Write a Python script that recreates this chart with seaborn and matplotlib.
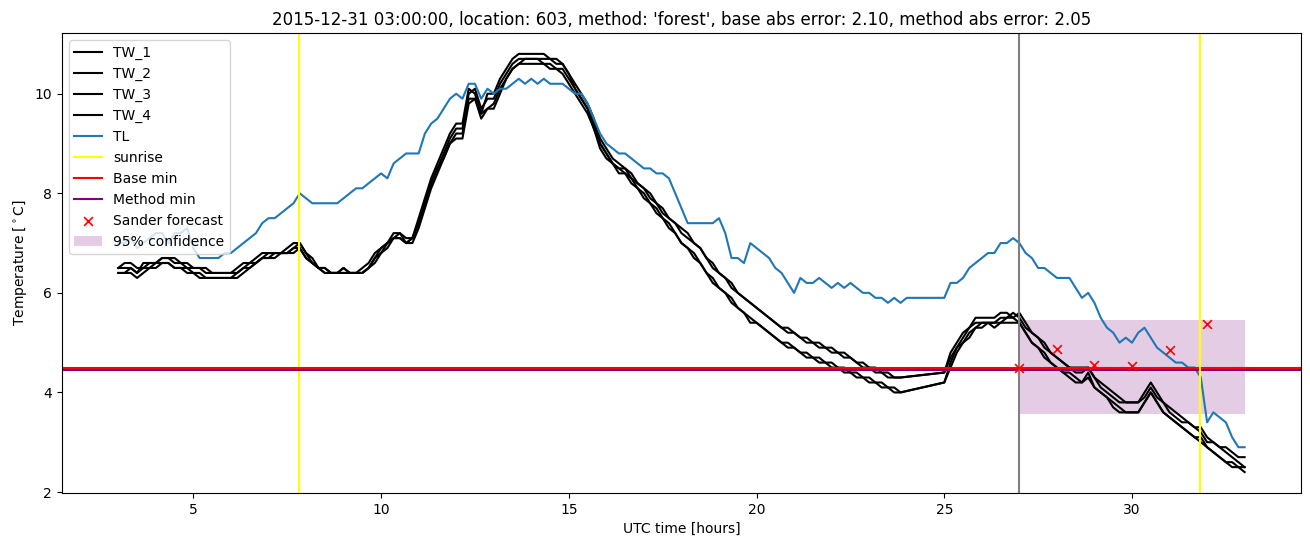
import numpy as np
import matplotlib
matplotlib.use("Agg")
import matplotlib.pyplot as plt
import seaborn as sns

# ---------------- data ----------------
# 10-minute sampling grid, hours UTC (3:00 .. 33:00)
hours = np.round(np.arange(3 * 6, 33 * 6 + 1) / 6, 4)
# water-temperature sensors have no data between ~23:50 and 25:00
tw_hours = hours[(hours < 23.9) | (hours > 24.9)]

tl = [7.0, 7.0, 7.1, 6.9, 7.0, 7.1, 7.2, 7.2, 7.0, 7.2,
      7.2, 7.3, 6.9, 6.7, 6.7, 6.7, 6.7, 6.8, 6.8, 6.9,
      7.0, 7.1, 7.2, 7.4, 7.5, 7.5, 7.6, 7.7, 7.8, 8.0,
      7.9, 7.8, 7.8, 7.8, 7.8, 7.8, 7.9, 8.0, 8.1, 8.1,
      8.2, 8.3, 8.4, 8.3, 8.6, 8.7, 8.8, 8.8, 8.8, 9.2,
      9.4, 9.5, 9.7, 9.9, 10.0, 9.9, 10.2, 10.2, 9.9, 10.1,
      10.0, 10.1, 10.1, 10.2, 10.3, 10.2, 10.3, 10.2, 10.3, 10.2,
      10.2, 10.2, 10.1, 10.0, 10.0, 9.8, 9.5, 9.2, 9.0, 8.9,
      8.8, 8.8, 8.7, 8.6, 8.5, 8.5, 8.4, 8.4, 8.3, 8.0,
      7.7, 7.4, 7.4, 7.4, 7.4, 7.4, 7.5, 7.2, 6.7, 6.7,
      6.6, 7.0, 6.9, 6.8, 6.7, 6.5, 6.4, 6.2, 6.0, 6.3,
      6.2, 6.2, 6.3, 6.2, 6.1, 6.2, 6.1, 6.2, 6.1, 6.0,
      6.0, 5.9, 5.9, 5.8, 5.9, 5.8, 5.9, 5.9, 5.9, 5.9,
      5.9, 5.9, 5.9, 6.2, 6.2, 6.3, 6.5, 6.6, 6.7, 6.8,
      6.8, 7.0, 7.0, 7.1, 7.0, 6.8, 6.7, 6.5, 6.5, 6.4,
      6.3, 6.3, 6.3, 6.1, 5.9, 6.0, 5.8, 5.5, 5.3, 5.2,
      5.0, 5.1, 5.0, 5.2, 5.3, 5.1, 4.9, 4.8, 4.7, 4.6,
      4.6, 4.5, 4.5, 4.3, 3.4, 3.6, 3.5, 3.4, 3.1, 2.9,
      2.9]

tw_1 = [6.5, 6.6, 6.6, 6.5, 6.5, 6.6, 6.6, 6.7, 6.7, 6.6,
        6.6, 6.6, 6.5, 6.5, 6.5, 6.4, 6.4, 6.4, 6.4, 6.5,
        6.6, 6.6, 6.7, 6.8, 6.8, 6.8, 6.8, 6.9, 7.0, 7.0,
        6.8, 6.6, 6.5, 6.5, 6.4, 6.4, 6.5, 6.4, 6.4, 6.5,
        6.6, 6.8, 6.9, 7.0, 7.2, 7.2, 7.0, 7.1, 7.5, 7.9,
        8.3, 8.6, 8.9, 9.2, 9.4, 9.4, 10.1, 10.0, 9.6, 10.0,
        10.0, 10.3, 10.5, 10.7, 10.8, 10.8, 10.8, 10.8, 10.8, 10.7,
        10.7, 10.6, 10.4, 10.2, 10.0, 9.8, 9.5, 9.1, 8.9, 8.7,
        8.6, 8.5, 8.4, 8.2, 8.1, 8.0, 7.8, 7.7, 7.5, 7.4,
        7.3, 7.2, 7.0, 6.9, 6.7, 6.6, 6.4, 6.3, 6.2, 6.0,
        5.9, 5.8, 5.7, 5.6, 5.5, 5.4, 5.3, 5.3, 5.2, 5.1,
        5.1, 5.0, 5.0, 4.9, 4.9, 4.8, 4.8, 4.7, 4.6, 4.6,
        4.5, 4.5, 4.4, 4.4, 4.3, 4.3,
        4.4, 4.8, 5.0, 5.2, 5.3, 5.5, 5.5, 5.5, 5.5, 5.6,
        5.6, 5.5, 5.6, 5.4, 5.2, 5.1, 5.0, 4.8, 4.7, 4.6,
        4.5, 4.5, 4.5, 4.5, 4.3, 4.2, 4.1, 4.0, 3.9, 3.8,
        3.8, 3.8, 4.0, 4.2, 4.0, 3.8, 3.7, 3.6, 3.5, 3.4,
        3.3, 3.3, 3.1, 3.0, 2.9, 2.9, 2.8, 2.7, 2.7]

tw_2 = [6.5, 6.5, 6.5, 6.4, 6.6, 6.6, 6.6, 6.7, 6.7, 6.7,
        6.6, 6.5, 6.5, 6.5, 6.4, 6.4, 6.4, 6.4, 6.4, 6.4,
        6.5, 6.6, 6.6, 6.7, 6.8, 6.8, 6.8, 6.8, 6.9, 7.0,
        6.8, 6.7, 6.5, 6.5, 6.4, 6.4, 6.4, 6.4, 6.4, 6.4,
        6.5, 6.7, 6.9, 7.0, 7.1, 7.2, 7.1, 7.1, 7.4, 7.8,
        8.2, 8.5, 8.8, 9.1, 9.3, 9.3, 10.0, 10.1, 9.7, 9.9,
        9.9, 10.2, 10.4, 10.6, 10.7, 10.7, 10.7, 10.7, 10.7, 10.7,
        10.6, 10.6, 10.4, 10.1, 9.9, 9.7, 9.4, 9.0, 8.8, 8.6,
        8.5, 8.5, 8.3, 8.2, 8.1, 7.9, 7.8, 7.6, 7.5, 7.4,
        7.2, 7.1, 7.0, 6.9, 6.7, 6.5, 6.4, 6.3, 6.1, 6.0,
        5.9, 5.8, 5.7, 5.6, 5.5, 5.4, 5.3, 5.2, 5.2, 5.1,
        5.0, 5.0, 4.9, 4.9, 4.8, 4.8, 4.7, 4.7, 4.6, 4.5,
        4.5, 4.4, 4.4, 4.3, 4.3, 4.3,
        4.4, 4.7, 4.9, 5.1, 5.3, 5.4, 5.4, 5.4, 5.4, 5.5,
        5.5, 5.6, 5.5, 5.3, 5.2, 5.1, 4.9, 4.8, 4.7, 4.6,
        4.5, 4.4, 4.4, 4.5, 4.3, 4.1, 4.0, 3.9, 3.8, 3.8,
        3.8, 3.8, 3.9, 4.1, 3.9, 3.8, 3.6, 3.5, 3.4, 3.4,
        3.3, 3.2, 3.0, 3.0, 2.9, 2.8, 2.7, 2.6, 2.5]

tw_3 = [6.4, 6.4, 6.5, 6.4, 6.5, 6.5, 6.6, 6.6, 6.6, 6.5,
        6.5, 6.5, 6.4, 6.3, 6.3, 6.3, 6.3, 6.3, 6.3, 6.4,
        6.5, 6.5, 6.6, 6.7, 6.7, 6.8, 6.8, 6.8, 6.9, 6.9,
        6.7, 6.6, 6.5, 6.4, 6.4, 6.4, 6.5, 6.4, 6.4, 6.4,
        6.5, 6.7, 6.8, 7.0, 7.1, 7.1, 7.0, 7.1, 7.4, 7.8,
        8.2, 8.5, 8.7, 9.0, 9.2, 9.2, 9.9, 9.9, 9.5, 9.7,
        9.8, 10.1, 10.3, 10.5, 10.6, 10.7, 10.7, 10.7, 10.6, 10.6,
        10.5, 10.5, 10.3, 10.1, 9.9, 9.7, 9.3, 9.0, 8.8, 8.6,
        8.5, 8.4, 8.3, 8.1, 8.0, 7.8, 7.7, 7.5, 7.4, 7.2,
        7.0, 6.9, 6.8, 6.6, 6.4, 6.3, 6.1, 6.0, 5.9, 5.7,
        5.6, 5.5, 5.4, 5.3, 5.2, 5.1, 5.0, 5.0, 4.9, 4.8,
        4.8, 4.7, 4.7, 4.6, 4.6, 4.5, 4.5, 4.4, 4.4, 4.3,
        4.3, 4.2, 4.2, 4.1, 4.1, 4.0,
        4.2, 4.6, 4.9, 5.0, 5.2, 5.3, 5.4, 5.4, 5.3, 5.4,
        5.5, 5.5, 5.4, 5.2, 5.0, 4.9, 4.8, 4.6, 4.5, 4.4,
        4.4, 4.3, 4.2, 4.4, 4.1, 4.0, 3.9, 3.8, 3.7, 3.6,
        3.6, 3.6, 3.8, 4.0, 3.8, 3.6, 3.5, 3.4, 3.3, 3.2,
        3.1, 3.1, 2.9, 2.8, 2.7, 2.6, 2.6, 2.5, 2.5]

tw_4 = [6.4, 6.4, 6.4, 6.3, 6.4, 6.5, 6.5, 6.6, 6.6, 6.5,
        6.5, 6.4, 6.4, 6.4, 6.3, 6.3, 6.3, 6.3, 6.3, 6.3,
        6.4, 6.5, 6.6, 6.7, 6.7, 6.7, 6.8, 6.8, 6.8, 6.9,
        6.7, 6.6, 6.5, 6.4, 6.4, 6.4, 6.4, 6.4, 6.4, 6.4,
        6.5, 6.6, 6.8, 6.9, 7.1, 7.1, 7.0, 7.0, 7.3, 7.7,
        8.1, 8.4, 8.7, 9.0, 9.1, 9.1, 9.8, 9.9, 9.6, 9.7,
        9.7, 10.0, 10.3, 10.5, 10.6, 10.6, 10.6, 10.6, 10.6, 10.5,
        10.5, 10.4, 10.2, 10.0, 9.8, 9.6, 9.3, 8.9, 8.7, 8.6,
        8.4, 8.4, 8.2, 8.1, 7.9, 7.8, 7.6, 7.5, 7.3, 7.2,
        7.0, 6.9, 6.7, 6.6, 6.4, 6.2, 6.1, 6.0, 5.8, 5.7,
        5.6, 5.4, 5.4, 5.3, 5.2, 5.1, 5.0, 4.9, 4.9, 4.8,
        4.7, 4.7, 4.6, 4.6, 4.5, 4.5, 4.4, 4.4, 4.3, 4.3,
        4.2, 4.2, 4.1, 4.1, 4.0, 4.0,
        4.2, 4.5, 4.8, 5.0, 5.1, 5.3, 5.3, 5.4, 5.4, 5.4,
        5.4, 5.4, 5.4, 5.2, 5.0, 4.9, 4.7, 4.6, 4.5, 4.4,
        4.3, 4.2, 4.2, 4.3, 4.1, 4.0, 3.9, 3.7, 3.6, 3.6,
        3.6, 3.6, 3.8, 4.0, 3.8, 3.6, 3.5, 3.4, 3.3, 3.2,
        3.1, 3.0, 2.9, 2.8, 2.7, 2.6, 2.5, 2.5, 2.4]

tw_series = {"TW_1": tw_1, "TW_2": tw_2, "TW_3": tw_3, "TW_4": tw_4}

sunrise_hours = [7.82, 31.82]
forecast_start = 27.0
base_min = 4.50
method_min = 4.45
sander_hours = [27, 28, 29, 30, 31, 32]
sander_temp = [4.49, 4.87, 4.55, 4.53, 4.85, 5.38]
conf_hours = [27.0, 33.0]
conf_low = [3.57, 3.57]
conf_high = [5.46, 5.46]

title = ("2015-12-31 03:00:00, location: 603, method: 'forest', "
         "base abs error: 2.10, method abs error: 2.05")

# ---------------- plot ----------------
fig, ax = plt.subplots(figsize=(13.1, 5.47), dpi=100)
fig.subplots_adjust(left=0.0473, right=0.9931, bottom=0.0987, top=0.9397)

for name, vals in tw_series.items():
    n = min(len(vals), len(tw_hours))
    sns.lineplot(x=tw_hours[:n], y=vals[:n], color="black", label=name,
                 ax=ax, estimator=None, sort=False, linewidth=1.5)

sns.lineplot(x=hours, y=tl, color="#1f77b4", label="TL", ax=ax,
             estimator=None, sort=False, linewidth=1.5)

ax.axvline(sunrise_hours[0], color="yellow", label="sunrise")
ax.axhline(base_min, color="red", label="Base min", linewidth=1.5)
ax.axhline(method_min, color="purple", label="Method min", linewidth=1.5)
ax.axvline(sunrise_hours[1], color="yellow")
ax.axvline(forecast_start, color="grey")

sns.scatterplot(x=sander_hours, y=sander_temp, marker="x", color="red",
                label="Sander forecast", ax=ax, s=40, linewidth=1.2, zorder=3)
ax.fill_between(conf_hours, conf_low, conf_high, color="purple", alpha=0.2,
                linewidth=0, label="95% confidence", zorder=0.5)

ax.set_title(title, fontsize=12)
ax.set_xlabel("UTC time [hours]")
ax.set_ylabel(r"Temperature [$^\circ$C]")
ax.legend(loc="upper left")

fig.savefig("out.png", dpi=100)
